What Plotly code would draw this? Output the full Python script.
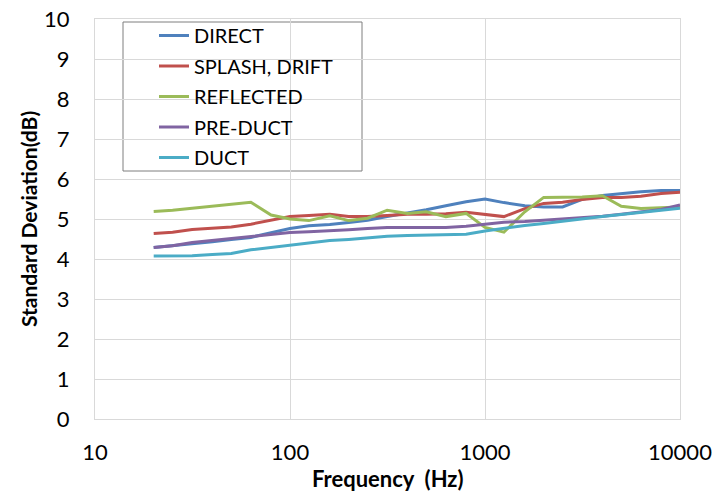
import plotly.graph_objects as go

# One-third-octave band centre frequencies (Hz)
freq = [20, 25, 31.5, 40, 50, 63, 80, 100, 125, 160, 200, 250, 315, 400, 500,
        630, 800, 1000, 1250, 1600, 2000, 2500, 3150, 4000, 5000, 6300, 8000, 10000]

# Standard deviation per band (dB)
direct = [4.29, 4.33, 4.39, 4.43, 4.49, 4.54, 4.66, 4.76, 4.83, 4.86, 4.91, 4.97,
          5.06, 5.14, 5.23, 5.33, 5.43, 5.50, 5.41, 5.33, 5.30, 5.30, 5.49, 5.59,
          5.64, 5.68, 5.71, 5.71]
splash_drift = [4.64, 4.67, 4.74, 4.77, 4.80, 4.87, 4.97, 5.06, 5.09, 5.12, 5.06, 5.06,
                5.09, 5.12, 5.12, 5.13, 5.17, 5.12, 5.06, 5.26, 5.39, 5.42, 5.49, 5.54,
                5.54, 5.57, 5.64, 5.67]
reflected = [5.19, 5.22, 5.27, 5.32, 5.36, 5.42, 5.10, 5.00, 4.96, 5.08, 4.96, 5.02,
             5.22, 5.14, 5.18, 5.06, 5.14, 4.79, 4.67, 5.18, 5.54, 5.54, 5.55, 5.58,
             5.32, 5.26, 5.28, 5.30]
pre_duct = [4.29, 4.33, 4.41, 4.46, 4.51, 4.56, 4.62, 4.66, 4.68, 4.70, 4.73, 4.76,
            4.79, 4.79, 4.79, 4.79, 4.82, 4.87, 4.92, 4.94, 4.97, 5.00, 5.04, 5.07,
            5.12, 5.17, 5.24, 5.35]
duct = [4.075, 4.075, 4.08, 4.11, 4.14, 4.23, 4.29, 4.35, 4.41, 4.46, 4.49, 4.53,
        4.57, 4.59, 4.60, 4.60, 4.62, 4.70, 4.77, 4.84, 4.89, 4.95, 5.00, 5.06,
        5.11, 5.16, 5.21, 5.27]

series = [
    ("DIRECT", direct, "#4F81BD"),
    ("SPLASH, DRIFT", splash_drift, "#C0504D"),
    ("REFLECTED", reflected, "#9BBB59"),
    ("PRE-DUCT", pre_duct, "#8064A2"),
    ("DUCT", duct, "#4BACC6"),
]

x_ticks = [10, 100, 1000, 10000]
y_ticks = list(range(0, 11))

x_title = "Frequency  (Hz)"
y_title = "Standard Deviation(dB)"

FONT = "Lato, Carlito, Calibri, sans-serif"
W, H = 721, 491

fig = go.Figure()
for i, (name, vals, color) in enumerate(series):
    fig.add_trace(go.Scatter(
        x=freq, y=vals, name=name, mode="lines",
        line=dict(color=color, width=3),
        legendgroup=f"g{i}",
    ))

grid = "#D9D9D9"
L, R, T, B = 95, 680, 19, 419
PW, PH = R - L, B - T
fig.update_layout(
    width=W, height=H,
    margin=dict(l=L, r=W - R, t=T, b=H - B, autoexpand=False),
    paper_bgcolor="white", plot_bgcolor="white",
    font=dict(family=FONT, size=22, color="black"),
    showlegend=True,
    legend=dict(
        xref="container", yref="container",
        x=154 / W, y=1 - 16 / H, xanchor="left", yanchor="top",
        bgcolor="rgba(0,0,0,0)", borderwidth=0,
        font=dict(family=FONT, size=20, color="black"),
        tracegroupgap=1.5,
    ),
    xaxis=dict(
        type="log", range=[1, 4], automargin=False,
        tickvals=x_ticks, ticktext=[str(v) for v in x_ticks],
        showgrid=True, gridcolor=grid, gridwidth=1,
        showline=True, linecolor=grid, linewidth=1, mirror=True,
        ticks="", zeroline=False, ticklabelstandoff=14,
    ),
    yaxis=dict(
        range=[0, 10], tickvals=y_ticks, automargin=False,
        showgrid=True, gridcolor=grid, gridwidth=1,
        showline=True, linecolor=grid, linewidth=1, mirror=True,
        ticks="", zeroline=False, ticklabelstandoff=20,
    ),
    shapes=[dict(
        type="rect", xref="paper", yref="paper",
        x0=(123 - L) / PW, x1=(362 - L) / PW,
        y0=(B - 171) / PH, y1=(B - 22) / PH,
        line=dict(color="#7F7F7F", width=1), fillcolor="white", layer="below",
    )],
    annotations=[
        dict(text=f"<b>{x_title}</b>", xref="paper", yref="paper",
             x=0.5, y=(B - 479) / PH, xanchor="center", yanchor="middle",
             showarrow=False, font=dict(family=FONT, size=22, color="black")),
        dict(text=f"<b>{y_title}</b>", xref="paper", yref="paper",
             x=(28 - L) / PW, y=0.5, xanchor="center", yanchor="middle",
             textangle=-90, showarrow=False,
             font=dict(family=FONT, size=21, color="black")),
    ],
)

fig.write_html("out.html")
